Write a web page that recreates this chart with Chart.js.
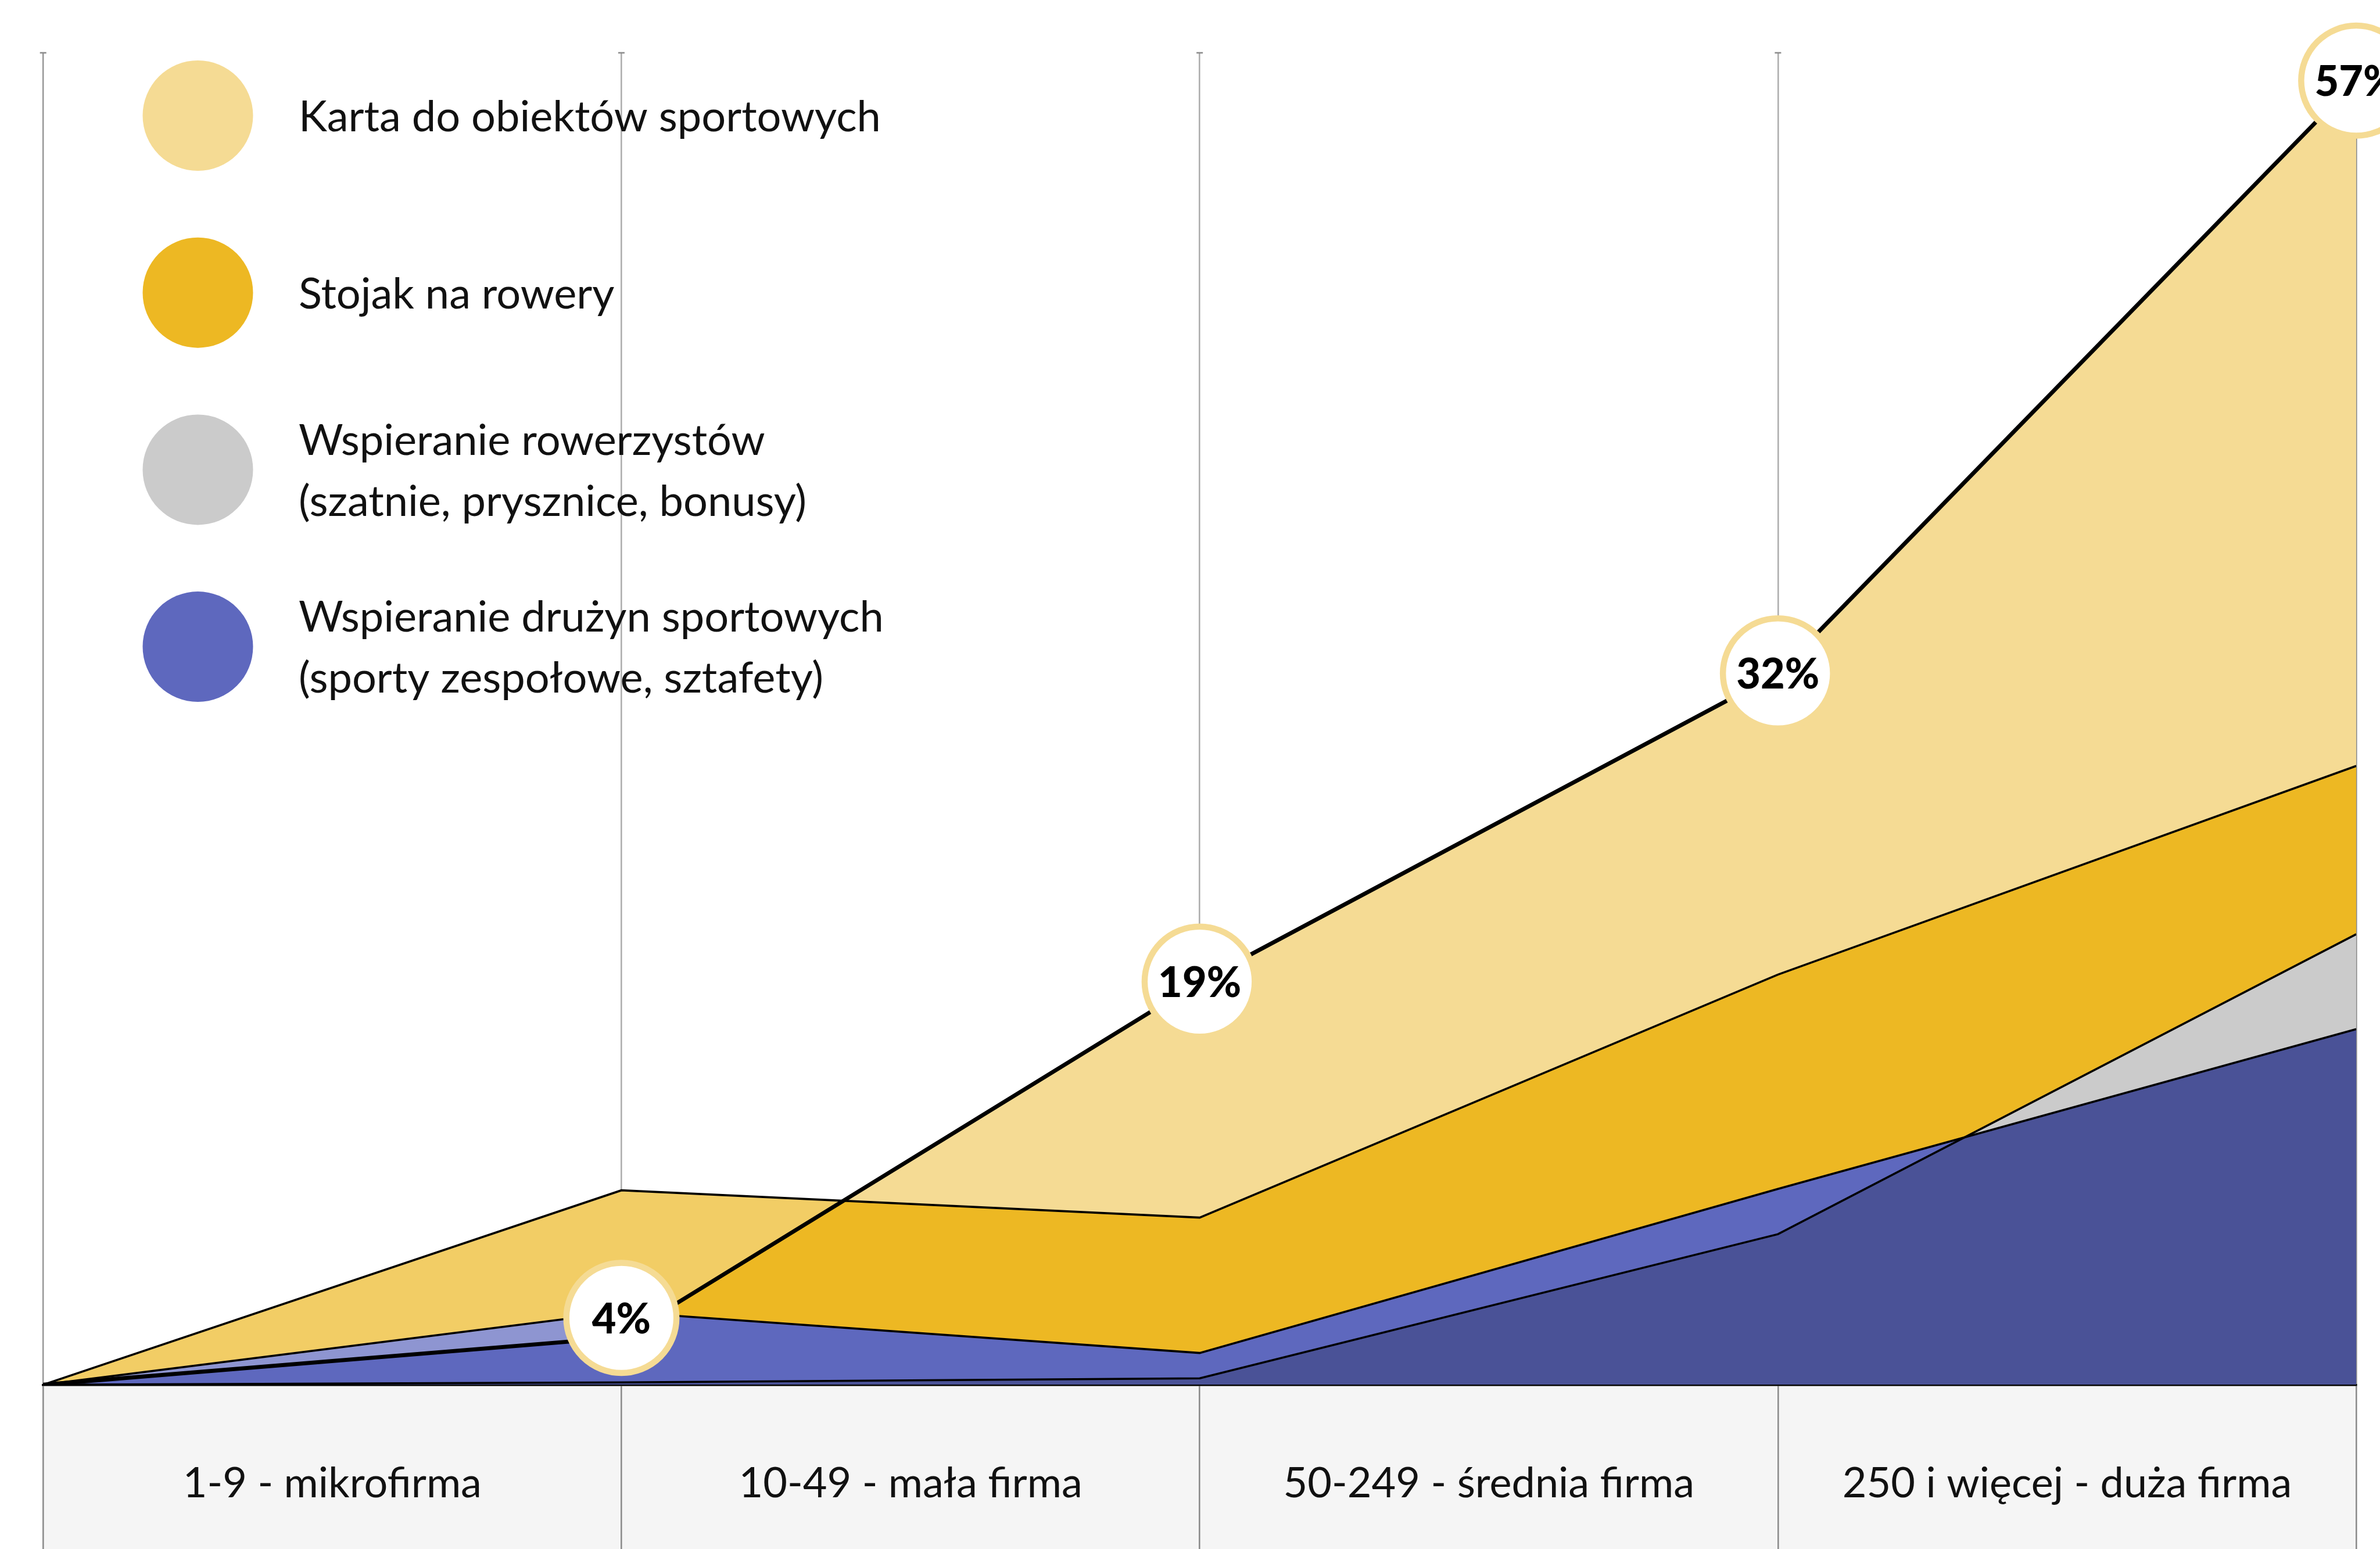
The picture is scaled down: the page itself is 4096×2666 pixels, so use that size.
<!DOCTYPE html>
<html>
<head>
<meta charset="utf-8">
<script src="https://cdn.jsdelivr.net/npm/chart.js@4.4.1/dist/chart.umd.min.js"></script>
<style>
  html, body { margin: 0; padding: 0; background: #ffffff; }
  #wrap { width: 4096px; height: 2666px; position: relative; }
</style>
</head>
<body>
<div id="wrap"><canvas id="chart"></canvas></div>
<script>
// ---------- DATA ----------
const categories = ['1-9 - mikrofirma', '10-49 - mała firma', '50-249 - średnia firma', '250 i więcej - duża firma'];
const xPoints = [0, 1, 2, 3, 4];
const karta = [2, 4, 19, 32, 57];            // Karta do obiektów sportowych (black line, % labels)
const stojak = [2, 10.2, 9.05, 19.3, 28.1];   // Stojak na rowery
const rowerzysci = [2, 2.1, 2.27, 8.35, 21.0]; // Wspieranie rowerzystów
const druzyny = [2, 5.07, 3.34, 10.26, 17.0]; // Wspieranie drużyn sportowych
const legendLabels = [
  ['Karta do obiektów sportowych'],
  ['Stojak na rowery'],
  ['Wspieranie rowerzystów', '(szatnie, prysznice, bonusy)'],
  ['Wspieranie drużyn sportowych', '(sporty zespołowe, sztafety)']
];
const tickValues = [0, 0.5, 1, 1.5, 2, 2.5, 3, 3.5, 4];

// ---------- STYLE ----------
const COL = {
  karta: '#F5DB94',
  stojak: '#EDB823',
  rower: '#CBCBCB',
  druz: '#5E68BE',
  overlap: '#4A5297',
  grid: '#8c8c8c',
  band: '#F5F5F5',
  text: '#111111'
};
const legendColors = [COL.karta, COL.stojak, COL.rower, COL.druz];
const FONT = 'Lato, "Open Sans", sans-serif';

const toXY = arr => arr.map((v, i) => ({ x: xPoints[i], y: v }));

const bandPlugin = {
  id: 'band',
  beforeDraw(chart) {
    const { ctx, chartArea: a } = chart;
    ctx.save();
    ctx.fillStyle = COL.band;
    ctx.fillRect(a.left, a.bottom, a.right - a.left, chart.height - a.bottom);
    ctx.restore();
  }
};

const overlayPlugin = {
  id: 'overlay',
  afterDraw(chart) {
    const { ctx, chartArea: a } = chart;
    const xs = chart.scales.x;
    // caps on top of grid lines
    ctx.save();
    ctx.strokeStyle = COL.grid;
    ctx.lineWidth = 2.6;
    xPoints.forEach(v => {
      const px = xs.getPixelForValue(v);
      ctx.beginPath();
      ctx.moveTo(px - 5.5, a.top + 1);
      ctx.lineTo(px + 5.5, a.top + 1);
      ctx.stroke();
    });
    ctx.restore();

    // bubbles with % labels
    const meta = chart.getDatasetMeta(0);
    const R = 100, BW = 10.5;
    ctx.save();
    meta.data.forEach((pt, i) => {
      if (i === 0) return;
      const cx = pt.x;
      const cy = Math.min(pt.y, a.bottom - R - 15);
      ctx.beginPath();
      ctx.arc(cx, cy, R - BW / 2, 0, Math.PI * 2);
      ctx.fillStyle = '#ffffff';
      ctx.fill();
      ctx.lineWidth = BW;
      ctx.strokeStyle = COL.karta;
      ctx.stroke();
      ctx.fillStyle = '#000000';
      ctx.font = '900 72px ' + FONT;
      ctx.textAlign = 'center';
      ctx.textBaseline = 'middle';
      ctx.fillText(karta[i] + '%', cx, cy + 3);
    });
    ctx.restore();

    // legend
    ctx.save();
    legendLabels.forEach((lines, i) => {
      const cy = 199 + i * 304.7;
      ctx.beginPath();
      ctx.arc(340.5, cy, 95, 0, Math.PI * 2);
      ctx.fillStyle = legendColors[i];
      ctx.fill();
      ctx.fillStyle = COL.text;
      ctx.font = '74px ' + FONT;
      ctx.textAlign = 'left';
      ctx.textBaseline = 'middle';
      const lh = 105;
      lines.forEach((t, j) => {
        const ty = cy + (j - (lines.length - 1) / 2) * lh;
        ctx.fillText(t, 514, ty + 3);
      });
    });
    ctx.restore();
  }
};

const ctx = document.getElementById('chart').getContext('2d');
new Chart(ctx, {
  type: 'line',
  data: {
    datasets: [
      { // 0: Karta (black line)
        label: legendLabels[0][0],
        data: toXY(karta),
        borderColor: '#000000', borderWidth: 7,
        backgroundColor: COL.karta,
        fill: 'start', order: 5, pointRadius: 0, tension: 0
      },
      { // 1: Stojak
        label: legendLabels[1][0],
        data: toXY(stojak),
        borderColor: '#000000', borderWidth: 3.6,
        backgroundColor: COL.stojak,
        fill: 'start', order: 4, pointRadius: 0, tension: 0
      },
      { // 2: Rowerzyści (overlap colour underneath)
        label: legendLabels[2][0],
        data: toXY(rowerzysci),
        borderColor: '#000000', borderWidth: 3.6,
        backgroundColor: COL.overlap,
        fill: 'start', order: 3, pointRadius: 0, tension: 0
      },
      { // 3: Drużyny
        label: legendLabels[3][0],
        data: toXY(druzyny),
        borderColor: '#000000', borderWidth: 3.6,
        fill: { target: 2, above: COL.druz, below: COL.rower },
        order: 2, pointRadius: 0, tension: 0
      },
      { // 4: light veil above the Karta line
        label: '',
        data: toXY(karta),
        borderWidth: 0, borderColor: 'rgba(0,0,0,0)',
        backgroundColor: 'rgba(255,255,255,0.3)',
        fill: 'end', order: 1, pointRadius: 0, tension: 0
      }
    ]
  },
  options: {
    responsive: true,
    maintainAspectRatio: false,
    devicePixelRatio: 1,
    animation: false,
    layout: { padding: { left: 74.2, right: 40.9, top: 89.9, bottom: 0 } },
    plugins: {
      legend: { display: false },
      tooltip: { enabled: false },
      filler: { drawTime: 'beforeDatasetsDraw' }
    },
    scales: {
      x: {
        type: 'linear', min: 0, max: 4, z: 1,
        afterBuildTicks: s => { s.ticks = tickValues.map(v => ({ value: v })); },
        afterFit: s => { s.height = 282.7; },
        ticks: {
          autoSkip: false, maxRotation: 0, minRotation: 0,
          padding: -155,
          color: COL.text,
          font: { family: FONT, size: 72 },
          callback: v => (v % 1 === 0.5 ? categories[Math.floor(v)] : '')
        },
        grid: {
          color: c => (c.tick && Number.isInteger(c.tick.value) ? COL.grid : 'rgba(0,0,0,0)'),
          lineWidth: 2.6,
          tickLength: 282.7,
          drawOnChartArea: true
        },
        border: { display: true, color: '#000000', width: 3.5 }
      },
      y: { display: false, min: 2, max: 58.2 }
    }
  },
  plugins: [bandPlugin, overlayPlugin]
});
</script>
</body>
</html>
